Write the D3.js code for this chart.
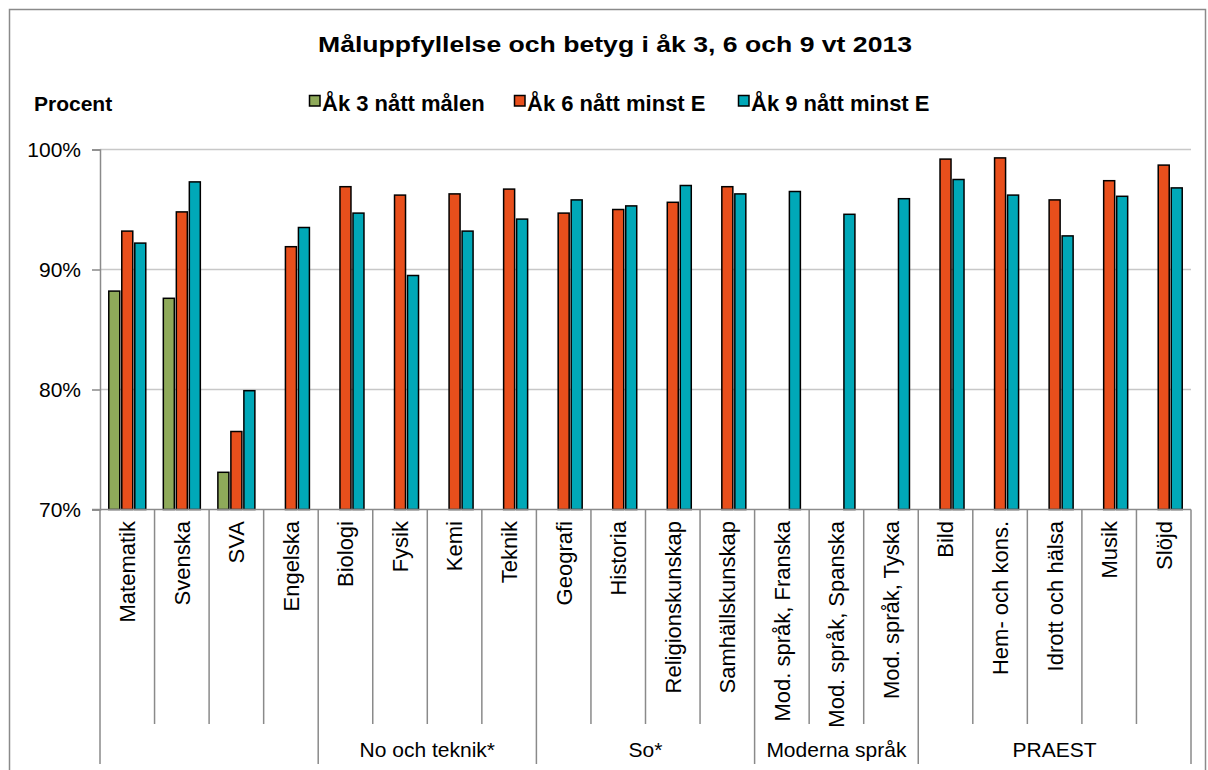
<!DOCTYPE html>
<html>
<head>
<meta charset="utf-8">
<script src="https://cdn.jsdelivr.net/npm/d3@7"></script>
<style>
  html, body { margin: 0; padding: 0; background: #fff; }
  svg { display: block; font-family: "Liberation Sans", Arial, sans-serif; }
</style>
</head>
<body>
<svg id="chart" width="1208" height="770"></svg>
<script>
// ---- Data ----
const title = "Måluppfyllelse och betyg i åk 3, 6 och 9 vt 2013";
const yAxisTitle = "Procent";
const categories = ["Matematik","Svenska","SVA","Engelska","Biologi","Fysik","Kemi","Teknik","Geografi","Historia","Religionskunskap","Samhällskunskap","Mod. språk, Franska","Mod. språk, Spanska","Mod. språk, Tyska","Bild","Hem- och kons.","Idrott och hälsa","Musik","Slöjd"];
const groupNames = ["", "No och teknik*", "So*", "Moderna språk", "PRAEST"];
const groupSizes = [4, 4, 4, 3, 5];
const seriesNames = ["Åk 3 nått målen", "Åk 6 nått minst E", "Åk 9 nått minst E"];
const ak3 = [88.2, 87.6, 73.1, null, null, null, null, null, null, null, null, null, null, null, null, null, null, null, null, null];
const ak6 = [93.2, 94.8, 76.5, 91.9, 96.9, 96.2, 96.3, 96.7, 94.7, 95.0, 95.6, 96.9, null, null, null, 99.2, 99.3, 95.8, 97.4, 98.7];
const ak9 = [92.2, 97.3, 79.9, 93.5, 94.7, 89.5, 93.2, 94.2, 95.8, 95.3, 97.0, 96.3, 96.5, 94.6, 95.9, 97.5, 96.2, 92.8, 96.1, 96.8];
const yTicks = [70, 80, 90, 100];
const colors = ["#8faa5a", "#e84f1c", "#00a8b8"];

// ---- Layout ----
const svg = d3.select("#chart");
const L = 100, R = 1191, T = 149.5, B = 509.5;

const x = d3.scaleBand().domain(categories).range([L, R]).padding(0);
const bw = x.bandwidth();
const inner = 37;
const x1 = d3.scaleBand().domain([0, 1, 2]).range([(bw - inner) / 2, (bw + inner) / 2]).paddingInner(2 / 13);
const y = d3.scaleLinear().domain([70, 100]).range([B, T]);

// outer border
svg.append("rect").attr("x", 9.5).attr("y", 9.5).attr("width", 1196).attr("height", 800)
  .attr("fill", "none").attr("stroke", "#8a8a8a").attr("stroke-width", 1.5);

// title
svg.append("text").attr("x", 615).attr("y", 52).attr("text-anchor", "middle")
  .attr("font-size", 22).attr("font-weight", "bold").attr("fill", "#000")
  .attr("textLength", 594).attr("lengthAdjust", "spacingAndGlyphs").text(title);

// y axis title
svg.append("text").attr("x", 34).attr("y", 111).attr("font-size", 21).attr("font-weight", "bold").text(yAxisTitle);

// legend
const legendX = [309, 514, 738];
seriesNames.forEach((s, i) => {
  const g = svg.append("g").attr("transform", `translate(${legendX[i]},0)`);
  g.append("rect").attr("x", 0.5).attr("y", 95.5).attr("width", 10.5).attr("height", 10.5)
    .attr("fill", colors[i]).attr("stroke", "#000").attr("stroke-width", 1.5);
  g.append("text").attr("x", 13).attr("y", 111).attr("font-size", 22).attr("font-weight", "bold").text(s);
});

// gridlines
svg.append("g").selectAll("line").data(yTicks.filter(t => t > 70)).join("line")
  .attr("x1", L).attr("x2", R).attr("y1", d => y(d)).attr("y2", d => y(d))
  .attr("stroke", "#c8c8c8").attr("stroke-width", 1.5);

// y axis
const yAxis = d3.axisLeft(y).tickValues(yTicks).tickSize(8).tickPadding(11).tickFormat(d => d + "%");
const gy = svg.append("g").attr("transform", `translate(${L},0)`).call(yAxis);
gy.select(".domain").attr("stroke", "#8a8a8a").attr("stroke-width", 1.5);
gy.selectAll(".tick line").attr("stroke", "#8a8a8a").attr("stroke-width", 1.5);
gy.selectAll(".tick text").attr("font-size", 21).attr("font-family", "Liberation Sans, Arial, sans-serif").attr("fill", "#000");

// bars
const series = [ak3, ak6, ak9];
series.forEach((vals, si) => {
  svg.append("g").selectAll("rect")
    .data(categories.map((c, i) => ({ c, v: vals[i] })).filter(d => d.v != null))
    .join("rect")
    .attr("x", d => x(d.c) + x1(si))
    .attr("width", x1.bandwidth())
    .attr("y", d => y(d.v))
    .attr("height", d => y(70) - y(d.v))
    .attr("fill", colors[si]).attr("stroke", "#000").attr("stroke-width", 1.5);
});

// x axis baseline
svg.append("line").attr("x1", L - 8).attr("x2", R).attr("y1", B).attr("y2", B)
  .attr("stroke", "#8a8a8a").attr("stroke-width", 1.5);

// category labels
svg.append("g").selectAll("text").data(categories).join("text")
  .attr("transform", d => `translate(${x(d) + bw / 2},521) rotate(-90)`)
  .attr("text-anchor", "end").attr("dy", "0.36em")
  .attr("font-size", 22).attr("fill", "#000").text(d => d);

// separators
const groupStarts = [];
let acc = 0;
groupSizes.forEach(n => { groupStarts.push(acc); acc += n; });
const boundaries = d3.range(categories.length + 1);
svg.append("g").selectAll("line").data(boundaries).join("line")
  .attr("x1", i => i < categories.length ? x(categories[i]) : R)
  .attr("x2", i => i < categories.length ? x(categories[i]) : R)
  .attr("y1", B)
  .attr("y2", i => (groupStarts.includes(i) || i === categories.length) ? 764 : 724)
  .attr("stroke", "#8a8a8a").attr("stroke-width", 1.5);

// group labels
svg.append("g").selectAll("text").data(groupNames).join("text")
  .attr("x", (d, gi) => {
    const s = groupStarts[gi], e = s + groupSizes[gi] - 1;
    return (x(categories[s]) + x(categories[e]) + bw) / 2;
  })
  .attr("y", 757).attr("text-anchor", "middle").attr("font-size", 21).attr("fill", "#000")
  .text(d => d);
</script>
</body>
</html>
